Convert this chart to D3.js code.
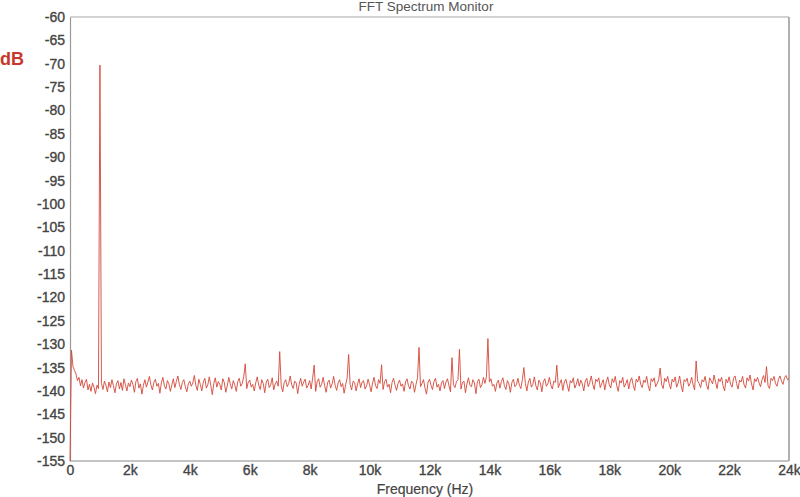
<!DOCTYPE html>
<html><head><meta charset="utf-8">
<script src="https://cdn.jsdelivr.net/npm/d3@7/dist/d3.min.js"></script>
<style>body{margin:0;background:#fff}svg{display:block}</style>
</head><body><svg id="c" width="800" height="497"></svg>
<script>
// ---- data ----
const freqStepHz = 50;
const noiseDb = [
-155,-131.3,-134.8,-135.6,-136.4,-137.8,-137.1,-138.9,-137.6,-139.4,-138.2,-137.5,-139.8,-138.6,-140.1,-138.3,-139.2,-140.6,-138.8,-139.5,
-137.2,-138.4,-139.7,-137.9,-138.8,-140.2,-138.1,-139.3,-137.6,-138.9,-140.4,-138.5,-137.8,-139.6,-138.2,-139.9,-137.4,-138.7,-140.0,-138.3,
-139.1,-137.7,-138.6,-140.3,-138.0,-137.3,-139.4,-138.5,-140.7,-138.8,-137.6,-139.2,-138.1,-136.9,-138.7,-139.8,-138.2,-137.5,-139.0,-138.4,
-140.5,-138.3,-137.1,-138.9,-139.6,-137.8,-138.5,-140.1,-138.7,-137.4,-139.3,-138.0,-136.8,-138.6,-139.7,-138.2,-137.6,-139.1,-140.2,-138.5,
-137.9,-139.0,-138.3,-136.7,-138.8,-139.9,-137.5,-138.6,-140.0,-138.1,-137.3,-139.4,-138.7,-137.0,-138.9,-140.8,-138.4,-137.2,-139.2,-138.0,
-138.6,-139.8,-137.4,-138.2,-140.3,-138.9,-137.1,-138.5,-139.6,-137.8,-138.7,-140.1,-138.0,-137.3,-139.0,-138.4,-136.9,-137.2,-139.5,-138.1,
-137.7,-139.2,-138.6,-140.0,-138.3,-137.0,-138.8,-139.7,-137.6,-138.4,-140.4,-138.1,-137.5,-139.3,-138.7,-137.2,-139.8,-138.5,-137.9,-139.0,
-137.4,-138.9,-140.2,-138.2,-137.6,-139.1,-138.4,-136.8,-138.7,-139.5,-137.9,-138.3,-140.6,-138.6,-137.3,-139.0,-138.1,-137.5,-139.4,-138.8,
-137.8,-139.6,-137.2,-138.5,-140.1,-138.0,-137.4,-139.2,-138.6,-137.1,-138.9,-140.3,-138.2,-137.7,-139.4,-138.5,-136.9,-138.8,-139.9,-138.3,
-137.6,-139.1,-138.4,-140.5,-138.7,-137.3,-137.0,-138.6,-139.8,-137.9,-138.2,-140.0,-138.5,-137.4,-139.3,-138.1,-137.8,-139.6,-138.9,-137.5,
-138.7,-140.2,-138.3,-137.1,-138.9,-139.5,-137.6,-138.4,-137.2,-139.7,-138.0,-137.5,-139.2,-138.6,-140.4,-138.2,-137.3,-138.8,-139.9,-138.4,
-137.7,-139.0,-138.5,-140.1,-138.1,-137.4,-138.9,-139.6,-137.9,-138.3,-140.3,-138.6,-137.2,-137.0,-139.1,-138.4,-137.6,-139.4,-140.7,-138.2,
-137.5,-138.8,-139.7,-138.0,-137.3,-139.2,-138.6,-140.0,-138.3,-137.8,-139.5,-138.1,-137.4,-138.9,-140.2,-137.1,-138.7,-139.3,-138.0,-137.6,
-137.4,-139.6,-138.2,-137.9,-140.4,-138.5,-137.2,-138.8,-139.1,-137.6,-138.3,-140.6,-138.0,-137.5,-139.3,-138.7,-137.1,-138.4,-137.0,-139.8,
-138.1,-137.4,-139.0,-138.6,-140.1,-138.3,-137.7,-139.4,-138.0,-137.2,-138.9,-139.7,-137.8,-138.5,-140.3,-138.2,-137.5,-139.1,-138.7,-137.3,
-138.8,-139.5,-137.6,-135.2,-138.4,-140.0,-138.1,-137.3,-139.2,-138.6,-137.0,-138.9,-139.8,-137.7,-138.3,-140.2,-138.0,-137.4,-139.0,-138.5,
-137.1,-138.7,-139.6,-137.9,-138.2,-137.0,-139.3,-138.4,-137.6,-139.9,-138.1,-137.5,-138.8,-140.1,-137.8,-138.3,-137.2,-139.4,-138.6,-137.4,
-139.0,-137.7,-138.5,-140.0,-137.9,-137.3,-139.1,-138.2,-136.8,-138.6,-139.7,-137.5,-138.0,-137.2,-139.3,-138.4,-137.6,-139.8,-138.1,-137.0,
-138.7,-139.4,-137.4,-138.2,-136.9,-138.9,-140.1,-137.8,-138.3,-137.1,-139.2,-138.5,-137.6,-139.6,-137.9,-137.2,-138.8,-139.9,-137.5,-138.1,
-136.8,-138.6,-139.3,-137.7,-138.2,-136.9,-138.9,-140.0,-137.4,-138.0,-137.2,-139.1,-138.4,-137.6,-135.6,-138.7,-139.5,-137.3,-138.0,-136.9,
-138.5,-139.6,-137.5,-138.1,-137.0,-139.2,-138.3,-136.8,-138.9,-140.2,-137.6,-138.0,-137.3,-139.0,-138.4,-137.1,-138.7,-139.8,-137.4,-137.9,
-138.4,-139.3,-137.6,-138.1,-136.9,-138.8,-139.7,-137.2,-137.8,-138.5,-136.6,-138.2,-139.5,-137.4,-138.0,-137.1,-138.9,-140.0,-137.5,-138.3,
-137.0,-138.6,-139.2,-137.3,-136.8,-138.4,-139.6,-137.7,-138.1,-136.9,-138.7,-139.4,-137.2,-137.9,-136.6,-138.5,-139.8,-137.4,-138.0,-137.1,
-138.3,-139.1,-137.6,-136.7,-138.2,-137.0,-138.9,-139.5,-137.3,-137.8,-136.9,-138.4,-139.0,-137.5,-136.8,-137.9,-138.6,-137.2,-136.7,-137.6,
-137.4
];
const spikeFreqHz = [1000, 5850, 7000, 8150, 9300, 10400, 11650, 12750, 13000, 13950, 15150, 16250, 19700, 20900, 23250];
const spikeDb      = [-70.3, -134.2, -131.6, -134.5, -132.2, -134.4, -130.7, -132.9, -131.1, -128.8, -135.0, -134.5, -135.1, -133.6, -134.8];

const yTickValues = [-60,-65,-70,-75,-80,-85,-90,-95,-100,-105,-110,-115,-120,-125,-130,-135,-140,-145,-150,-155];
const xTickValues = [0,2000,4000,6000,8000,10000,12000,14000,16000,18000,20000,22000,24000];
const xTickLabels = ["0","2k","4k","6k","8k","10k","12k","14k","16k","18k","20k","22k","24k"];

// ---- build series ----
const levels = noiseDb.slice();
spikeFreqHz.forEach((f, i) => { levels[Math.round(f / freqStepHz)] = spikeDb[i]; });
const series = levels.map((v, i) => ({ f: i * freqStepHz, db: v }));

// ---- draw ----
const L = 70, R = 789, T = 17, B = 461;
const x = d3.scaleLinear().domain([0, 24000]).range([L, R]);
const y = d3.scaleLinear().domain([-155, -60]).range([B, T]);
const svg = d3.select("#c");
const font = "'Liberation Sans', Arial, sans-serif";
const labelColor = "#444";

svg.append("text").attr("x", 426).attr("y", 11).attr("text-anchor", "middle")
  .attr("font-family", font).attr("font-size", 13.5).attr("fill", "#555")
  .text("FFT Spectrum Monitor");

svg.append("text").attr("x", 0).attr("y", 65).attr("font-family", font)
  .attr("font-size", 18).attr("font-weight", "bold").attr("fill", "#c8372d").text("dB");

// frame
svg.append("line").attr("x1", L).attr("x2", R).attr("y1", T).attr("y2", T).attr("stroke", "#a8a8a8").attr("stroke-width", 1.2);
svg.append("line").attr("x1", R).attr("x2", R).attr("y1", T).attr("y2", B).attr("stroke", "#b0b0b0").attr("stroke-width", 2);
svg.append("line").attr("x1", L).attr("x2", R).attr("y1", B).attr("y2", B).attr("stroke", "#b0b0b0").attr("stroke-width", 1.5);

// y axis
const yAxis = svg.append("g").attr("transform", `translate(${L},0)`)
  .call(d3.axisLeft(y).tickValues(yTickValues).tickSize(0).tickPadding(5).tickFormat(d => String(d)));
yAxis.select(".domain").attr("stroke", "#999").attr("stroke-width", 1.2);
yAxis.selectAll("text").attr("font-family", font).attr("font-size", 14).attr("fill", labelColor)
  .attr("stroke", labelColor).attr("stroke-width", 0.35);

// x axis
const xAxis = svg.append("g").attr("transform", `translate(0,${B})`)
  .call(d3.axisBottom(x).tickValues(xTickValues).tickSize(0).tickPadding(4).tickFormat((d, i) => xTickLabels[i]));
xAxis.select(".domain").remove();
xAxis.selectAll("text").attr("font-family", font).attr("font-size", 14).attr("fill", labelColor)
  .attr("stroke", labelColor).attr("stroke-width", 0.35);

svg.append("text").attr("x", 425).attr("y", 494).attr("text-anchor", "middle")
  .attr("font-family", font).attr("font-size", 14).attr("fill", labelColor)
  .attr("stroke", labelColor).attr("stroke-width", 0.2).text("Frequency (Hz)");

// spectrum line
const line = d3.line().x(d => x(d.f)).y(d => y(d.db));
svg.append("path").datum(series).attr("d", line).attr("fill", "none")
  .attr("stroke", "#d4483a").attr("stroke-width", 1).attr("stroke-opacity", 0.9).attr("stroke-linejoin", "round");
</script></body></html>
